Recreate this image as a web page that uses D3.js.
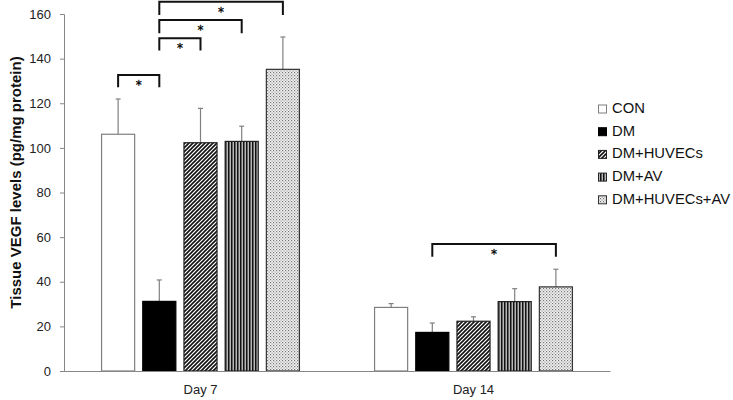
<!DOCTYPE html>
<html><head><meta charset="utf-8">
<script src="https://cdn.jsdelivr.net/npm/d3@7"></script>
<style>body{margin:0;background:#fff}svg{display:block;font-family:"Liberation Sans",Arial,sans-serif}</style>
</head><body>
<svg id="chart" width="733" height="400"></svg>
<script>
const days = ["Day 7", "Day 14"];
const groups = ["CON", "DM", "DM+HUVECs", "DM+AV", "DM+HUVECs+AV"];
const means = {
  "Day 7":  [106.1, 31.2, 102.3, 102.9, 135.2],
  "Day 14": [28.5, 17.3, 22.3, 31.1, 37.7]
};
const errors = {
  "Day 7":  [15.8, 9.6, 15.4, 6.8, 14.5],
  "Day 14": [1.7, 4.2, 2.0, 5.8, 7.9]
};
const yTicks = [0, 20, 40, 60, 80, 100, 120, 140, 160];
// significance brackets: day, from group, to group, bar level, left leg end, right leg end
const brackets = [
  {day: "Day 7", from: "CON", to: "DM", y: 132.7, legL: 127.2, legR: 127.2},
  {day: "Day 7", from: "DM", to: "DM+HUVECs", y: 149.1, legL: 143.6, legR: 143.6},
  {day: "Day 7", from: "DM", to: "DM+AV", y: 157.3, legL: 151.4, legR: 151.4},
  {day: "Day 7", from: "DM", to: "DM+HUVECs+AV", y: 165.5, legL: 159.6, legR: 159.6},
  {day: "Day 14", from: "DM", to: "DM+HUVECs+AV", y: 56.9, legL: 51.2, legR: 51.2}
];
const yTitle = "Tissue VEGF levels (pg/mg protein)";

const svg = d3.select("#chart");
const defs = svg.append("defs");
// diagonal
const pd = defs.append("pattern").attr("id","pDiag").attr("patternUnits","userSpaceOnUse").attr("width",4).attr("height",4);
pd.append("rect").attr("width",4).attr("height",4).attr("fill","#fff");
pd.append("path").attr("d","M-1,1 l2,-2 M0,4 l4,-4 M3,5 l2,-2").attr("stroke","#111").attr("stroke-width",1.6);
// vertical
const pv = defs.append("pattern").attr("id","pVert").attr("patternUnits","userSpaceOnUse").attr("width",3).attr("height",3);
pv.append("rect").attr("width",3).attr("height",3).attr("fill","#b8b8b8");
pv.append("rect").attr("width",1.5).attr("height",3).attr("fill","#111");
// dotted
const pdot = defs.append("pattern").attr("id","pDot").attr("patternUnits","userSpaceOnUse").attr("width",3).attr("height",3);
pdot.append("rect").attr("width",3).attr("height",3).attr("fill","#f2f2f2");
pdot.append("rect").attr("x",0).attr("y",0).attr("width",1.2).attr("height",1.2).attr("fill","#777");
pdot.append("rect").attr("x",1.5).attr("y",1.5).attr("width",1.2).attr("height",1.2).attr("fill","#999");

const fills = {"CON":"#fff","DM":"#000","DM+HUVECs":"url(#pDiag)","DM+AV":"url(#pVert)","DM+HUVECs+AV":"url(#pDot)"};
const strokes = {"CON":"#7f7f7f","DM":"#000","DM+HUVECs":"#222","DM+AV":"#222","DM+HUVECs+AV":"#333"};

const mLeft = 64, mRight = 610, mTop = 14, mBottom = 371;
const x0 = d3.scaleBand().domain(days).range([mLeft, mRight]).padding(0);
const x1 = d3.scaleBand().domain(groups).range([0, x0.bandwidth()]).paddingInner(0.173).paddingOuter(0.9);
const y = d3.scaleLinear().domain([0, 160]).range([mBottom, mTop]);

// y axis
const yAxis = svg.append("g").attr("transform",`translate(${mLeft},0)`)
  .call(d3.axisLeft(y).tickValues(yTicks).tickSize(4).tickPadding(9));
yAxis.select(".domain").attr("stroke","#868686");
yAxis.selectAll(".tick line").attr("stroke","#868686");
yAxis.selectAll("text").attr("font-size","13px").attr("fill","#222");

// bars
const data = [];
days.forEach(d => groups.forEach((g,i) => data.push({day:d, g, v: means[d][i], e: errors[d][i]})));
const bx = d => x0(d.day) + x1(d.g);
svg.append("g").selectAll("g.err").data(data).join("g").attr("class","err").each(function(d){
  const cx = bx(d) + x1.bandwidth()/2;
  const s = d3.select(this);
  s.append("line").attr("x1",cx).attr("x2",cx).attr("y1",y(d.v)).attr("y2",y(d.v+d.e)).attr("stroke","#808080").attr("stroke-width",1.2);
  s.append("line").attr("x1",cx-2.5).attr("x2",cx+2.5).attr("y1",y(d.v+d.e)).attr("y2",y(d.v+d.e)).attr("stroke","#808080").attr("stroke-width",1.2);
});
svg.append("g").selectAll("rect").data(data).join("rect")
  .attr("x", d => bx(d) + 0.5).attr("y", d => y(d.v))
  .attr("width", x1.bandwidth() - 1).attr("height", d => y(0) - y(d.v))
  .attr("fill", d => fills[d.g]).attr("stroke", d => strokes[d.g]).attr("stroke-width",1.2);

// x axis
const xAxis = svg.append("g").attr("transform",`translate(0,${mBottom})`)
  .call(d3.axisBottom(x0).tickSize(0).tickPadding(14));
xAxis.select(".domain").attr("stroke","#868686");
xAxis.selectAll("text").attr("font-size","13px").attr("fill","#222");

// brackets
const bc = (day,g) => x0(day) + x1(g) + x1.bandwidth()/2;
const bg = svg.append("g");
brackets.forEach(b => {
  const xa = bc(b.day,b.from), xb = bc(b.day,b.to);
  bg.append("path").attr("d",`M${xa},${y(b.legL)}V${y(b.y)}H${xb}V${y(b.legR)}`)
    .attr("fill","none").attr("stroke","#111").attr("stroke-width",2);
  bg.append("text").attr("x",(xa+xb)/2).attr("y",y(b.y)+14).attr("text-anchor","middle")
    .attr("font-size","12px").attr("font-family","DejaVu Sans").attr("fill","#000")
    .attr("stroke","#000").attr("stroke-width",0.3).text("*");
});

// y title
svg.append("text").attr("transform",`translate(17,${(32+333)/2}) rotate(-90)`)
  .attr("text-anchor","middle").attr("dominant-baseline","middle")
  .attr("font-weight","bold").attr("font-size","15px").attr("fill","#111").text(yTitle);

// legend
const lg = svg.append("g");
groups.forEach((g,i) => {
  const cy = 109 + i*22.7;
  lg.append("rect").attr("x",598.5).attr("y",cy-4).attr("width",8).attr("height",8)
    .attr("fill",fills[g]).attr("stroke",strokes[g]).attr("stroke-width",1);
  lg.append("text").attr("x",612).attr("y",cy).attr("dominant-baseline","middle")
    .attr("font-size","14.8px").attr("fill","#111").text(g);
});
</script>
</body></html>
